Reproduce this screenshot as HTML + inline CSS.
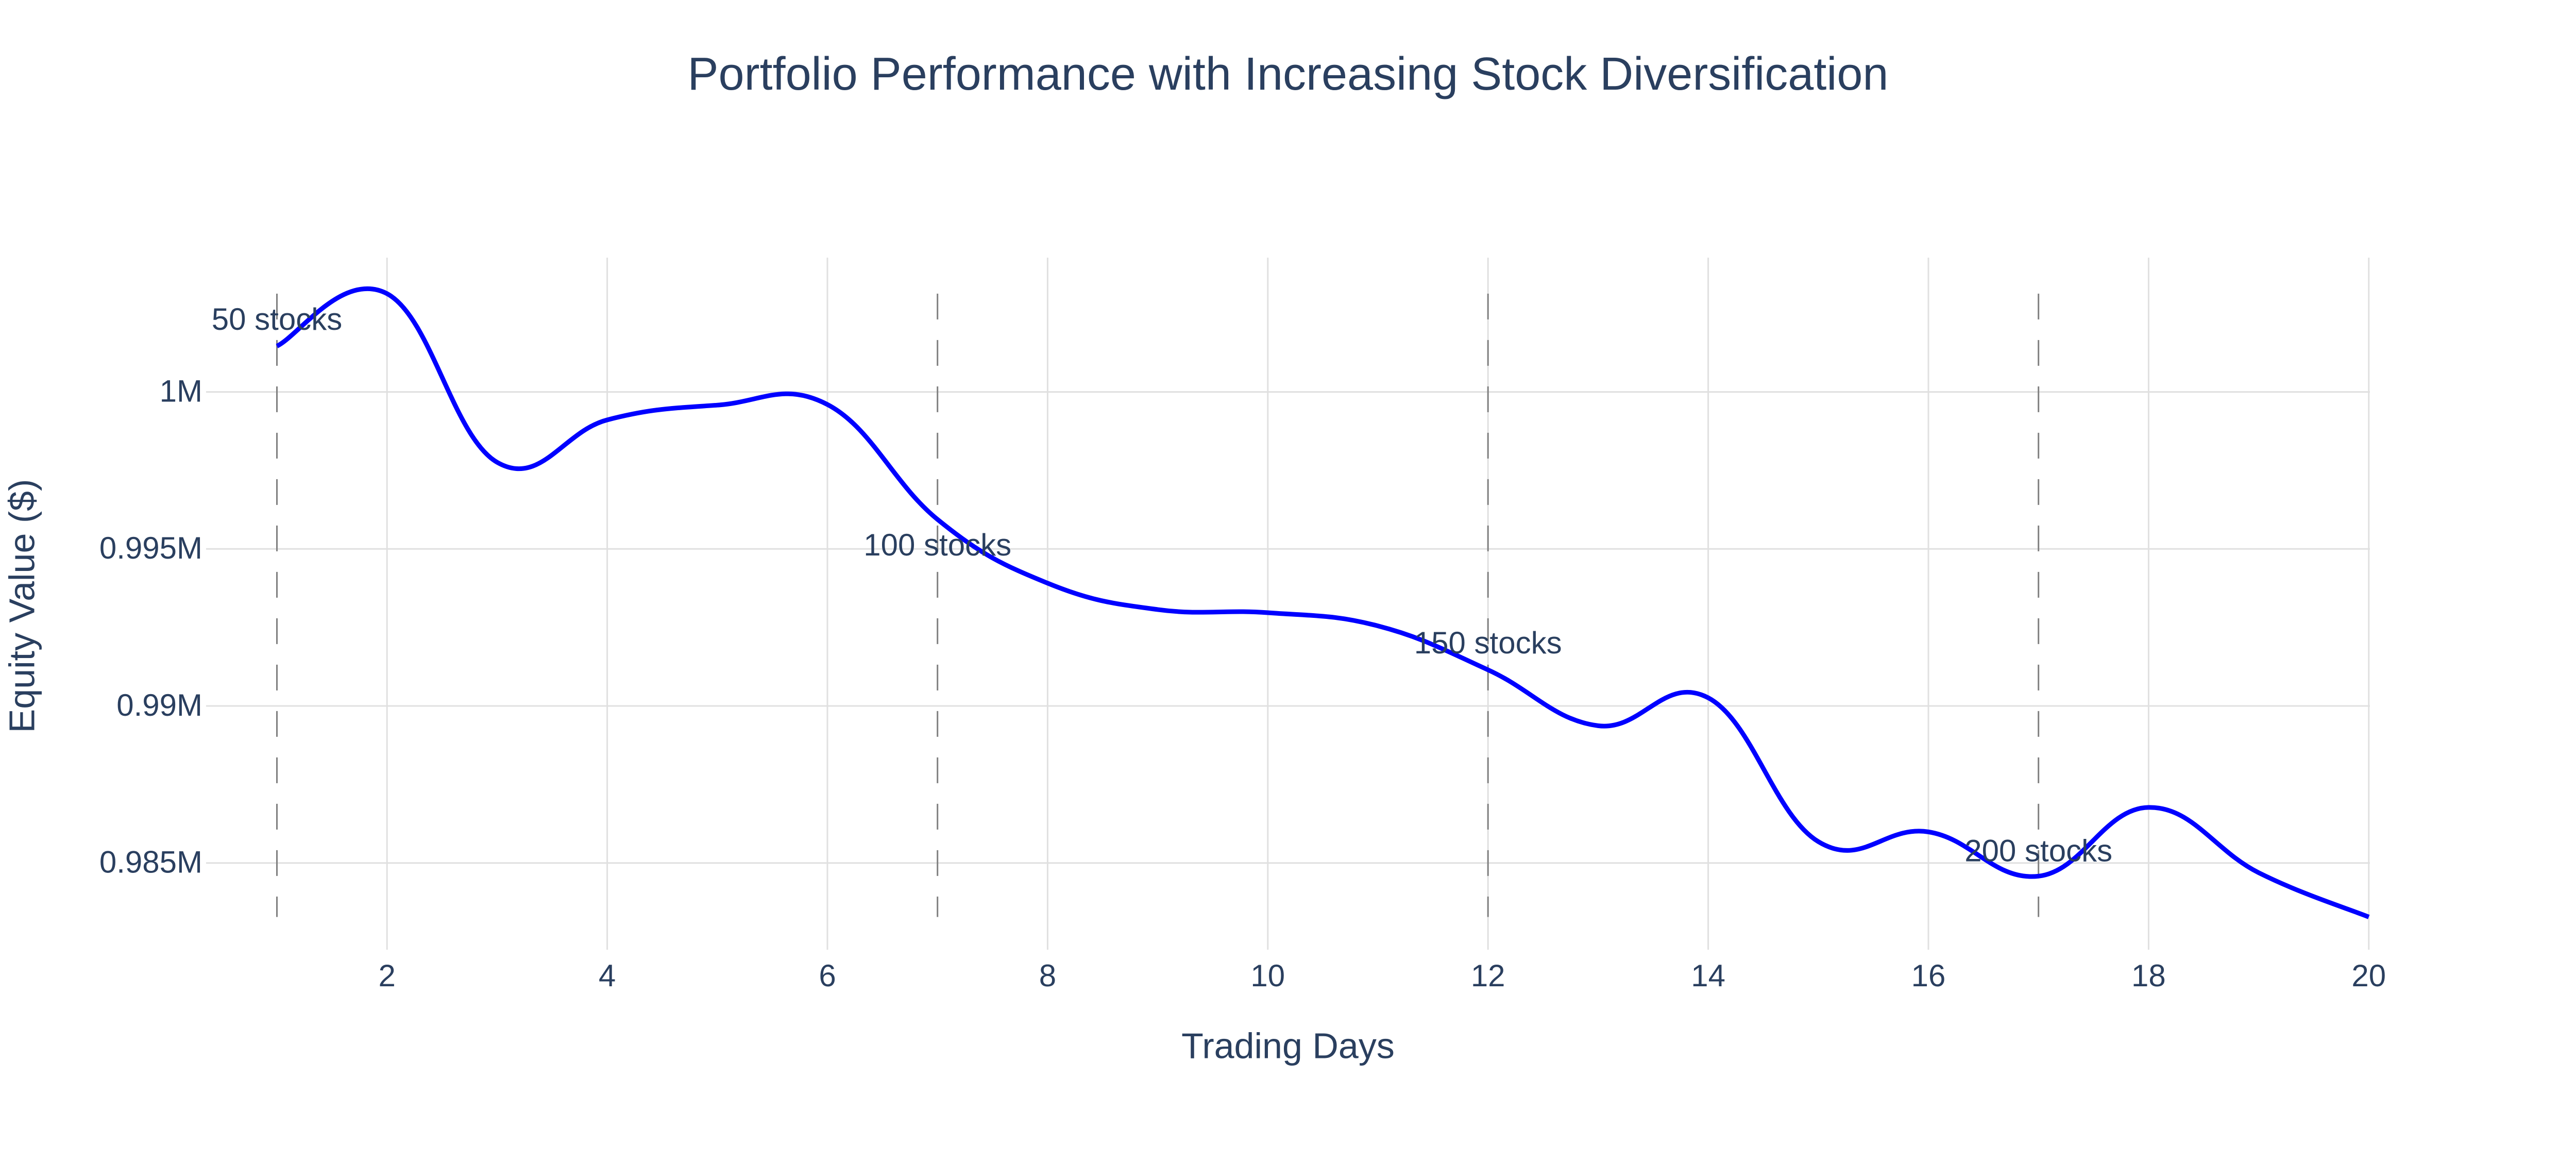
<!DOCTYPE html>
<html><head><meta charset="utf-8"><style>
html,body{margin:0;padding:0;background:#fff;}
svg text{font-family:"Liberation Sans",sans-serif;fill:#2a3f5f;}
</style></head><body>
<svg id="chart" width="5000" height="2250" viewBox="0 0 5000 2250" xmlns="http://www.w3.org/2000/svg">
<rect width="5000" height="2250" fill="#fff"/>
<g id="grid"></g>
<g id="vlines"></g>
<path id="line" fill="none" stroke="#0000ff" stroke-width="9"/>
<g id="ann"></g>
<g id="ticks"></g>
<text x="2500" y="150" font-size="90" text-anchor="middle" dominant-baseline="middle">Portfolio Performance with Increasing Stock Diversification</text>
<text x="2500" y="2035" font-size="70" text-anchor="middle" dominant-baseline="middle">Trading Days</text>
<text x="48" y="1176" font-size="70" text-anchor="middle" dominant-baseline="middle" transform="rotate(-90 48 1176)">Equity Value ($)</text>
</svg>
<script>
const days=[1,2,3,4,5,6,7,8,9,10,11,12,13,14,15,16,17,18,19,20];
const equity=[1001460,1003130,997760,999110,999580,999600,995940,993910,993070,992970,992550,991150,989370,990260,985680,985990,984580,986770,984690,983280];
const xTicks=[2,4,6,8,10,12,14,16,18,20];
const yTicks=[985000,990000,995000,1000000];
const yTickLabels=["0.985M","0.99M","0.995M","1M"];
const markerDays=[1,7,12,17];
const markerLabels=["50 stocks","100 stocks","150 stocks","200 stocks"];
const markerLabelY=[1002290,995100,991980,985360];

const PL=400,PR=4600,PT=500,PB=1843;
function X(d){return 537.5+(d-1)*213.7;}
function Y(v){return 760.6-(v-1000000)/5000*304.7;}
const NS="http://www.w3.org/2000/svg";
function mk(tag,attrs,parent){const e=document.createElementNS(NS,tag);for(const k in attrs)e.setAttribute(k,attrs[k]);parent.appendChild(e);return e;}
const grid=document.getElementById('grid'),ticks=document.getElementById('ticks');
xTicks.forEach(t=>{
  const l=mk('line',{x1:X(t),x2:X(t),y1:PT,y2:PB,stroke:'#e0e0e0','stroke-width':3},grid);
  
  
  const tx=mk('text',{x:X(t),y:1898,'font-size':60,'text-anchor':'middle','dominant-baseline':'middle'},ticks);
  tx.textContent=t;
  
  
});
yTicks.forEach((t,i)=>{
  const l=mk('line',{x1:PL,x2:PR,y1:Y(t),y2:Y(t),stroke:'#e0e0e0','stroke-width':3},grid);
  
  
  const tx=mk('text',{x:393,y:Y(t)+3,'font-size':60,'text-anchor':'end','dominant-baseline':'middle'},ticks);
  tx.textContent=yTickLabels[i];
  
  
});
const vmax=Math.max(...equity),vmin=Math.min(...equity);
const vl=document.getElementById('vlines'),ann=document.getElementById('ann');
markerDays.forEach((d,i)=>{
  const l=mk('line',{x1:X(d),x2:X(d),y1:Y(vmax),y2:Y(vmin),stroke:'#808080','stroke-width':3,'stroke-dasharray':'50,40'},vl);
  
  
  const tx=mk('text',{x:X(d),y:Y(markerLabelY[i])+3,'font-size':60,'text-anchor':'middle','dominant-baseline':'middle'},ann);
  tx.textContent=markerLabels[i];
  
  
});
const P=days.map((d,i)=>[X(d),Y(equity[i])]);
let dstr='M'+P[0][0]+','+P[0][1];
for(let i=0;i<P.length-1;i++){
  const p0=P[Math.max(0,i-1)],p1=P[i],p2=P[i+1],p3=P[Math.min(P.length-1,i+2)];
  const c1=[p1[0]+(p2[0]-p0[0])/5,p1[1]+(p2[1]-p0[1])/5];
  const c2=[p2[0]-(p3[0]-p1[0])/5,p2[1]-(p3[1]-p1[1])/5];
  dstr+=` C${c1[0]},${c1[1]} ${c2[0]},${c2[1]} ${p2[0]},${p2[1]}`;
}
document.getElementById('line').setAttribute('d',dstr);
</script>
</body></html>
